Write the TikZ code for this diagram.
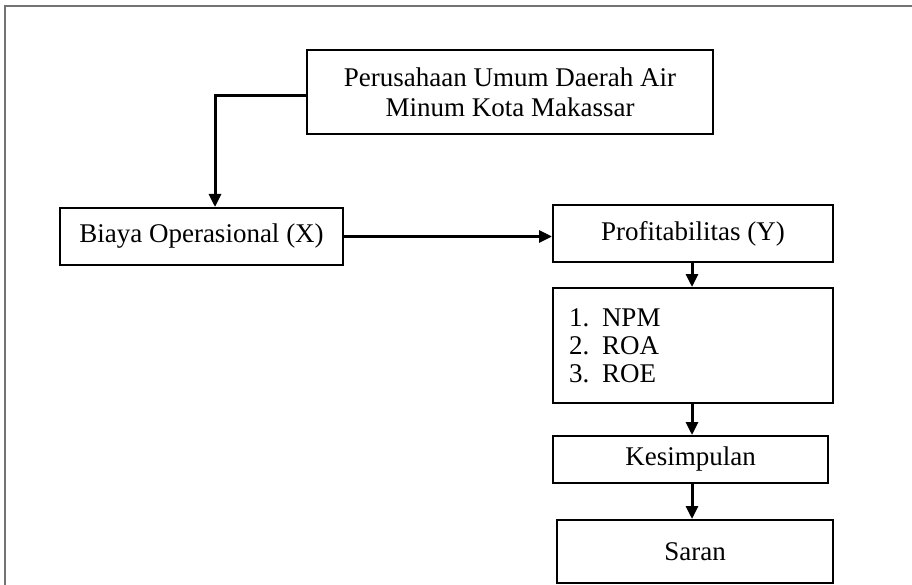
\documentclass[tikz,border=0pt]{standalone}
\usepackage{fontspec}
\setmainfont{Liberation Serif}
\usetikzlibrary{arrows.meta,calc}
\tikzset{
  box/.style={draw=black, line width=2pt, rectangle, inner sep=0pt, align=center,
    font=\fontsize{27}{30}\selectfont},
  conn/.style={draw=black, line width=3pt, -{Triangle[length=13pt,width=12pt]}},
  frame/.style={draw=black!55, line width=1.2pt}
}
\begin{document}
\begin{tikzpicture}[x=1pt,y=-1pt]
\useasboundingbox (0,0) rectangle (912,585);
\fill[white] (0,0) rectangle (912,585);
\begin{scope}
\clip (0,0) rectangle (912,585);
\draw[frame] (5,6) rectangle (930,600);
\end{scope}
\node[box, minimum width=406pt, minimum height=84pt] (top) at (510,92)
  {Perusahaan Umum Daerah Air\\Minum Kota Makassar};
\node[box, minimum width=283pt, minimum height=57pt] (biaya) at (201.5,236.5)
  {Biaya Operasional (X)};
\node[box, minimum width=280pt, minimum height=57pt] (profit) at (693,233.5)
  {Profitabilitas (Y)};
\node[box, minimum width=280pt, minimum height=115pt, text width=248pt, align=left,
  font=\fontsize{27}{28}\selectfont] (list) at (693,345.5)
  {\makebox[33pt][l]{1.}NPM\\\makebox[33pt][l]{2.}ROA\\\makebox[33pt][l]{3.}ROE};
\node[box, minimum width=275pt, minimum height=47pt] (kes) at (690.5,459.5)
  {Kesimpulan};
\node[box, minimum width=276pt, minimum height=63pt] (saran) at (695,551.5)
  {Saran};
\coordinate (corner) at (215,96);
\draw[conn] (top.west |- corner) -- (corner) -- (corner |- biaya.north);
\draw[conn] (biaya.east) -- (biaya.east -| profit.west);
\coordinate (vx) at (692,0);
\draw[conn] (vx |- profit.south) -- (vx |- list.north);
\draw[conn] (vx |- list.south) -- (vx |- kes.north);
\draw[conn] (vx |- kes.south) -- (vx |- saran.north);
\end{tikzpicture}
\end{document}
